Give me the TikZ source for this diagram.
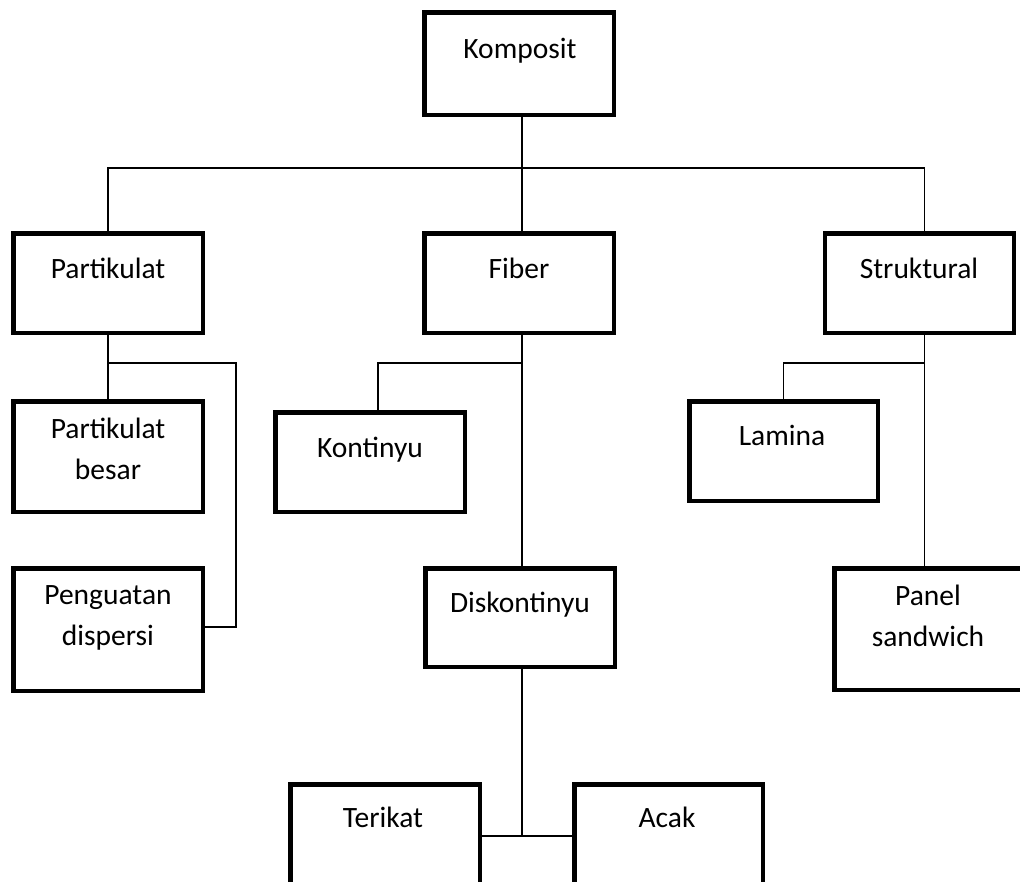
\documentclass[tikz,border=0pt]{standalone}
\usepackage{fontspec}
\setmainfont{Carlito}
\begin{document}
\begin{tikzpicture}[x=1pt,y=-1pt,
  box/.style={draw=black, line width=4.5pt, rectangle, inner sep=0pt, minimum width=189.5pt},
  lbl/.style={anchor=base, inner sep=0pt, align=center, font=\fontsize{29.5pt}{41pt}\selectfont},
  wire/.style={draw=black, line width=1.6pt}]
\clip (0,0) rectangle (1020,881);
\fill[white] (0,0) rectangle (1020,881);
% boxes
\node[box, minimum height=102.5pt] (komp) at (519,63.5) {};
\node[box, minimum height=99.5pt] (part) at (108,283) {};
\node[box, minimum height=99.5pt] (fiber) at (519,283) {};
\node[box, minimum height=99.5pt, minimum width=189pt] (struk) at (919.5,283) {};
\node[box, minimum height=110.5pt] (pbesar) at (108,456.5) {};
\node[box, minimum height=122.5pt] (peng) at (108,629.5) {};
\node[box, minimum height=99.5pt] (kont) at (370,462) {};
\node[box, minimum height=99.5pt, minimum width=188.5pt] (lamina) at (783.5,451) {};
\node[box, minimum height=98.5pt] (disk) at (520,617.5) {};
\node[box, minimum height=121.5pt] (panel) at (929,629) {};
\node[box, minimum height=123.5pt] (terikat) at (385,846) {};
\node[box, minimum height=123.5pt, minimum width=188.5pt] (acak) at (668.5,846) {};
% labels
\node[lbl] (tkomp) at (520,58) {Komposit};
\node[lbl] (tpart) at (108,278) {Partikulat};
\node[lbl] (tfiber) at (519,278) {Fiber};
\node[lbl] (tstruk) at (919,278) {Struktural};
\node[lbl] (tpbesar) at (108,479) {Partikulat\\besar};
\node[lbl] (tpeng) at (108,645) {Penguatan\\dispersi};
\node[lbl] (tkont) at (370,457) {Kontinyu};
\node[lbl] (tlamina) at (782,445) {Lamina};
\node[lbl] (tdisk) at (520,612) {Diskontinyu};
\node[lbl] (tpanel) at (928,646) {Panel\\sandwich};
\node[lbl] (tterikat) at (383,827) {Terikat};
\node[lbl] (tacak) at (667,827) {Acak};
% coordinates
\coordinate (bus) at (0,168);
\coordinate (br) at (0,363);
% connectors
\draw[wire] ([xshift=3pt]komp.south) -- ([xshift=3pt]fiber.north);
\draw[wire] (part.north) -- (part.north |- bus) -- ([xshift=5pt]struk.north |- bus) -- ([xshift=5pt]struk.north);
\draw[wire] (part.south) -- (pbesar.north);
\draw[wire] (part.south |- br) -| (236,627) -- (peng.east |- 0,627);
\draw[wire] ([xshift=3pt]fiber.south) -- ([xshift=3pt]fiber.south |- disk.north);
\draw[wire] ([xshift=3pt]fiber.south |- br) -| ([xshift=8pt]kont.north);
\draw[wire] ([xshift=5pt]struk.south) -- ([xshift=5pt]struk.south |- panel.north);
\draw[wire] ([xshift=5pt]struk.south |- br) -| (lamina.north);
\draw[wire] ([xshift=2pt]disk.south) -- ([xshift=2pt]disk.south |- 0,836);
\draw[wire] (terikat.east |- 0,836) -- (acak.west |- 0,836);
\end{tikzpicture}
\end{document}
